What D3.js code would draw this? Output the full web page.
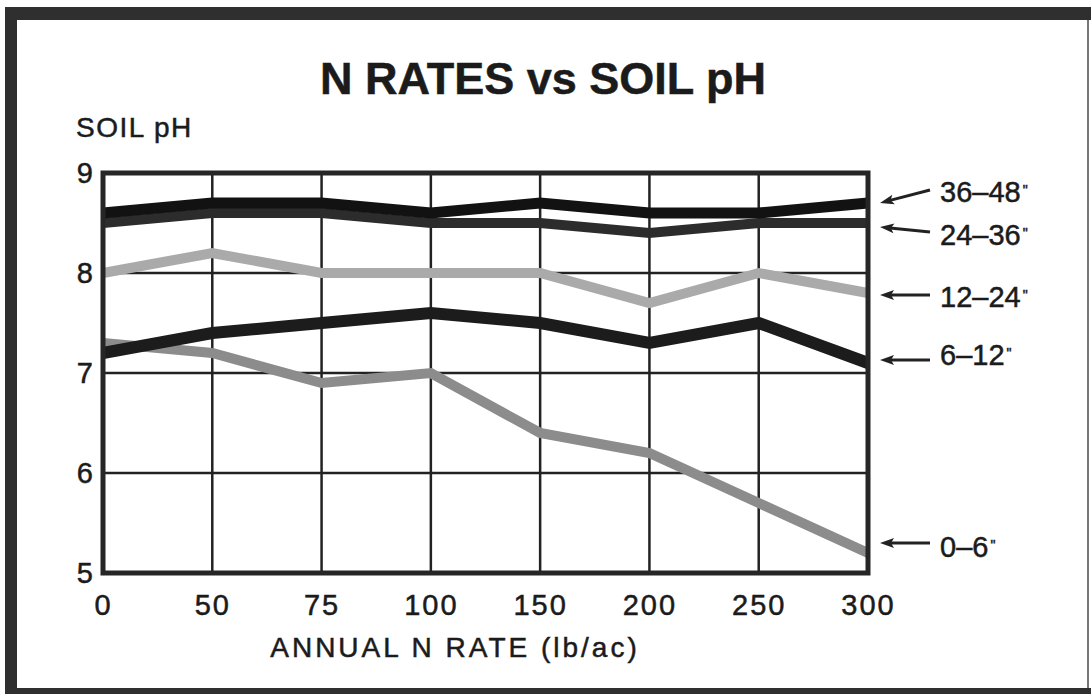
<!DOCTYPE html>
<html>
<head>
<meta charset="utf-8">
<script src="https://cdn.jsdelivr.net/npm/d3@7"></script>
<style>
  body { margin: 0; background: #fff; }
  text { font-family: "Liberation Sans", Arial, sans-serif; fill: #1b1b1b; stroke: #1b1b1b; stroke-width: 0.5px; }
</style>
</head>
<body>
<svg id="chart"></svg>
<script>
// N rate categories (lb/ac) and soil pH by depth
var rates = ["0", "50", "75", "100", "150", "200", "250", "300"];
var ph36_48 = [8.6, 8.7, 8.7, 8.6, 8.7, 8.6, 8.6, 8.7];
var ph24_36 = [8.5, 8.6, 8.6, 8.5, 8.5, 8.4, 8.5, 8.5];
var ph12_24 = [8.0, 8.2, 8.0, 8.0, 8.0, 7.7, 8.0, 7.8];
var ph6_12  = [7.2, 7.4, 7.5, 7.6, 7.5, 7.3, 7.5, 7.1];
var ph0_6   = [7.3, 7.2, 6.9, 7.0, 6.4, 6.2, 5.7, 5.2];
var phTicks = [5, 6, 7, 8, 9];
var depths = ["36–48", "24–36", "12–24", "6–12", "0–6"];

var width = 1091, height = 694;
var svg = d3.select("#chart").attr("width", width).attr("height", height);

var x = d3.scalePoint().domain(rates).range([103, 868]);
var y = d3.scaleLinear().domain([5, 9]).range([573, 173]);

// outer frame (scanned page border)
var frameColor = "#2f2f2f";
svg.append("rect").attr("x", 5).attr("y", 7).attr("width", 1086).attr("height", 13).attr("fill", frameColor);
svg.append("rect").attr("x", 5).attr("y", 7).attr("width", 12).attr("height", 687).attr("fill", frameColor);
svg.append("rect").attr("x", 5).attr("y", 688).attr("width", 1086).attr("height", 6).attr("fill", frameColor);
svg.append("rect").attr("x", 1087).attr("y", 20).attr("width", 2).attr("height", 668).attr("fill", "#777");

// title
svg.append("text")
  .attr("x", 543).attr("y", 94)
  .attr("text-anchor", "middle")
  .style("font-size", "45px").style("font-weight", "bold")
  .text("N RATES vs SOIL pH");

svg.append("text")
  .attr("x", 76).attr("y", 137)
  .style("font-size", "28px").style("letter-spacing", "1.5px")
  .text("SOIL pH");

// grid
var plot = svg.append("g");
plot.selectAll(".hgrid").data(phTicks.slice(1, -1)).enter().append("line")
  .attr("class", "hgrid")
  .attr("x1", x(rates[0])).attr("x2", x(rates[rates.length - 1]))
  .attr("y1", function(d){ return y(d); }).attr("y2", function(d){ return y(d); })
  .attr("stroke", "#222").attr("stroke-width", 2.5);

plot.selectAll(".vgrid").data(rates.slice(1, -1)).enter().append("line")
  .attr("class", "vgrid")
  .attr("x1", function(d){ return x(d); }).attr("x2", function(d){ return x(d); })
  .attr("y1", y(9)).attr("y2", y(5))
  .attr("stroke", "#222").attr("stroke-width", 2.5);

// series
var series = [
  {name: depths[4], values: ph0_6,   color: "#8c8c8c", w: 10},
  {name: depths[2], values: ph12_24, color: "#aaaaaa", w: 10},
  {name: depths[3], values: ph6_12,  color: "#1c1c1c", w: 12},
  {name: depths[1], values: ph24_36, color: "#2c2c2c", w: 10},
  {name: depths[0], values: ph36_48, color: "#121212", w: 11}
];

var line = d3.line()
  .x(function(d, i){ return x(rates[i]); })
  .y(function(d){ return y(d); });

plot.selectAll(".series").data(series).enter().append("path")
  .attr("class", "series")
  .attr("d", function(d){ return line(d.values); })
  .attr("fill", "none")
  .attr("stroke", function(d){ return d.color; })
  .attr("stroke-width", function(d){ return d.w; })
  .attr("stroke-linejoin", "miter");

// plot border
plot.append("rect")
  .attr("x", x(rates[0])).attr("y", y(9))
  .attr("width", x(rates[rates.length - 1]) - x(rates[0]))
  .attr("height", y(5) - y(9))
  .attr("fill", "none").attr("stroke", "#262626").attr("stroke-width", 5);

// axes
var yAxis = d3.axisLeft(y).tickValues(phTicks).tickSize(0).tickPadding(10).tickFormat(d3.format("d"));
var gy = svg.append("g").attr("transform", "translate(" + x(rates[0]) + ",0)").call(yAxis);

var xAxis = d3.axisBottom(x).tickSize(0).tickPadding(21);
var gx = svg.append("g").attr("transform", "translate(0," + y(5) + ")").call(xAxis);

svg.selectAll(".domain").remove();
svg.selectAll(".tick text")
  .style("font-size", "29px")
  .style("font-family", "'Liberation Sans', Arial, sans-serif")
  .attr("fill", "#1b1b1b");
gx.selectAll(".tick text").style("letter-spacing", "2px");

svg.append("text")
  .attr("x", 455).attr("y", 657)
  .attr("text-anchor", "middle")
  .style("font-size", "28px").style("letter-spacing", "3px")
  .text("ANNUAL N RATE (lb/ac)");

// depth labels with arrows
var labelLayout = [
  {tail: [930, 190], tip: [880, 203], ty: 192},
  {tail: [930, 232], tip: [880, 227], ty: 235},
  {tail: [930, 295], tip: [880, 295], ty: 297},
  {tail: [930, 360], tip: [880, 360], ty: 355},
  {tail: [930, 543], tip: [880, 543], ty: 547}
];

var labels = svg.selectAll(".dlabel").data(depths).enter().append("g").attr("class", "dlabel");

labels.append("line")
  .attr("x1", function(d, i){ return labelLayout[i].tail[0]; })
  .attr("y1", function(d, i){ return labelLayout[i].tail[1]; })
  .attr("x2", function(d, i){ return labelLayout[i].tip[0] + 10; })
  .attr("y2", function(d, i){
    var l = labelLayout[i];
    return l.tip[1] + (l.tail[1] - l.tip[1]) * 10 / (l.tail[0] - l.tip[0]);
  })
  .attr("stroke", "#222").attr("stroke-width", 3);

labels.append("path")
  .attr("d", function(d, i){
    var l = labelLayout[i];
    var a = Math.atan2(l.tail[1] - l.tip[1], l.tail[0] - l.tip[0]);
    var c = Math.cos(a), s = Math.sin(a);
    var pts = [[0, 0], [14, -5], [11, 0], [14, 5]].map(function(p){
      return [l.tip[0] + p[0] * c - p[1] * s, l.tip[1] + p[0] * s + p[1] * c];
    });
    return "M" + pts.join("L") + "Z";
  })
  .attr("fill", "#222");

var lt = labels.append("text")
  .attr("x", 940)
  .attr("y", function(d, i){ return labelLayout[i].ty; })
  .attr("dy", "0.36em")
  .style("font-size", "29px");
lt.append("tspan").text(function(d){ return d; });
lt.append("tspan").attr("dy", "-0.55em").attr("dx", "2").style("font-size", "14px").text("\"");
</script>
</body>
</html>
